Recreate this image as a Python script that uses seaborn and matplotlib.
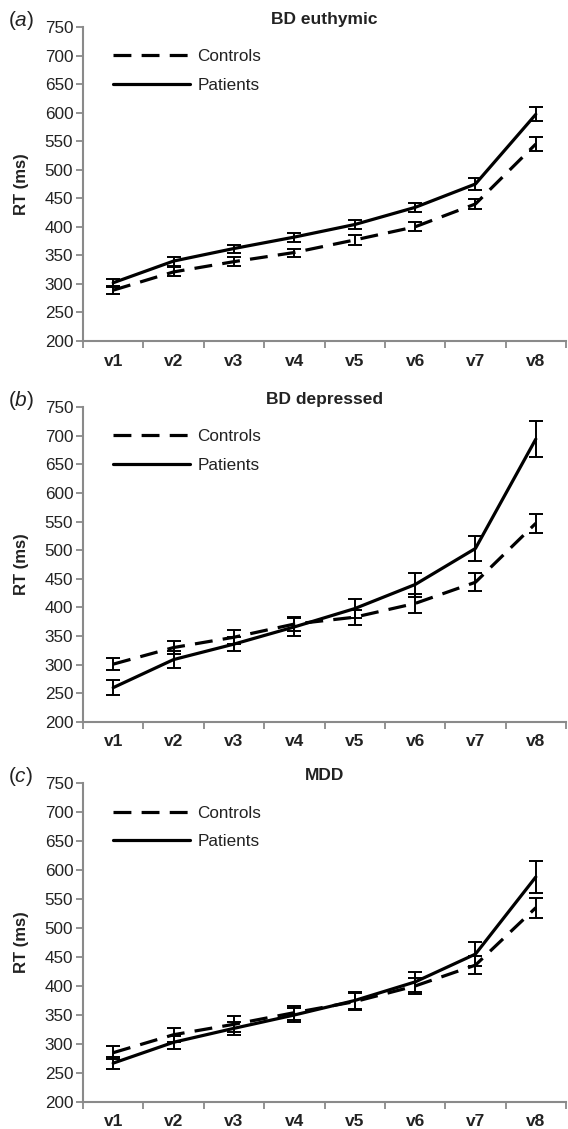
import numpy as np
import pandas as pd
import matplotlib
matplotlib.use("Agg")
import matplotlib.pyplot as plt
import seaborn as sns

# ---- data (mean RT and error, ms) ----
visits = ["v1", "v2", "v3", "v4", "v5", "v6", "v7", "v8"]
groups = ["Controls", "Patients"]

euth_controls = [289, 321, 339, 355, 377, 400, 440, 545]
euth_controls_err = [7, 8, 8, 7, 9, 8, 9, 12]
euth_patients = [302, 340, 362, 382, 404, 434, 475, 597]
euth_patients_err = [7, 8, 7, 8, 8, 8, 10, 12]

dep_controls = [301, 330, 348, 371, 383, 407, 444, 547]
dep_controls_err = [11, 12, 12, 12, 13, 17, 16, 17]
dep_patients = [260, 309, 336, 366, 398, 440, 503, 694]
dep_patients_err = [13, 15, 12, 16, 16, 21, 22, 31]

mdd_controls = [285, 316, 334, 354, 373, 400, 436, 535]
mdd_controls_err = [11, 12, 14, 12, 15, 14, 15, 17]
mdd_patients = [267, 303, 327, 350, 375, 407, 455, 588]
mdd_patients_err = [10, 11, 11, 12, 15, 17, 21, 28]

panel_titles = ["BD euthymic", "BD depressed", "MDD"]
panel_letters = ["a", "b", "c"]
y_ticks = [200, 250, 300, 350, 400, 450, 500, 550, 600, 650, 700, 750]

panels = [
    (euth_controls, euth_controls_err, euth_patients, euth_patients_err),
    (dep_controls, dep_controls_err, dep_patients, dep_patients_err),
    (mdd_controls, mdd_controls_err, mdd_patients, mdd_patients_err),
]

# ---- style ----
sns.set_style("ticks")
plt.rcParams["font.family"] = ["Liberation Sans", "DejaVu Sans"]
plt.rcParams["mathtext.fontset"] = "custom"
plt.rcParams["mathtext.it"] = "Liberation Sans:italic"
plt.rcParams["mathtext.rm"] = "Liberation Sans"

SPINE = "#8a8a8a"
TEXT = "#222222"

fig = plt.figure(figsize=(5.68, 11.29), dpi=100)
W, H = 568, 1129
# (top, bottom) of each axes in pixels
boxes = [(27, 341), (407, 722), (783, 1102)]
title_pads = [1.4, 2.0, -1.2]
ax_left, ax_right = 83, 566

for i, (c_mean, c_err, p_mean, p_err) in enumerate(panels):
    top, bot = boxes[i]
    ax = fig.add_axes([ax_left / W, 1 - bot / H, (ax_right - ax_left) / W, (bot - top) / H])

    df = pd.DataFrame({
        "visit": visits * 2,
        "rt": c_mean + p_mean,
        "group": ["Controls"] * len(visits) + ["Patients"] * len(visits),
    })
    sns.lineplot(data=df, x="visit", y="rt", style="group", style_order=groups,
                 dashes={"Controls": (5.6, 3.2), "Patients": ""},
                 color="black", linewidth=2.3, ax=ax, sort=False)

    ax.errorbar(visits, c_mean, yerr=c_err, fmt="none", ecolor="black",
                elinewidth=1.4, capsize=5, capthick=1.4)
    ax.errorbar(visits, p_mean, yerr=p_err, fmt="none", ecolor="black",
                elinewidth=1.4, capsize=5, capthick=1.4)

    ax.set_xlim(-0.5, 7.5)
    ax.set_ylim(200, 750)
    ax.set_yticks(y_ticks)
    ax.set_xticks(np.arange(-0.5, 8, 1), minor=True)
    ax.tick_params(axis="x", which="major", length=0, pad=9,
                   labelsize=12.5, labelcolor=TEXT)
    ax.tick_params(axis="x", which="minor", length=5, width=1.3, color=SPINE,
                   direction="out")
    ax.tick_params(axis="y", length=5, width=1.3, color=SPINE, pad=2,
                   labelsize=12.3, labelcolor=TEXT)
    for lab in ax.get_xticklabels():
        lab.set_fontweight("bold")

    sns.despine(ax=ax, top=True, right=True)
    for s in ["left", "bottom"]:
        ax.spines[s].set_color(SPINE)
        ax.spines[s].set_linewidth(1.5)

    ax.set_xlabel("")
    ax.set_ylabel("RT (ms)", fontsize=12, fontweight="bold", color=TEXT, labelpad=11)
    ax.set_title(panel_titles[i], fontsize=12.5, fontweight="bold", color=TEXT,
                 pad=title_pads[i])

    leg = ax.legend(loc="upper left", bbox_to_anchor=(0.062, 0.929), frameon=False,
                    fontsize=12.3, handlelength=4.5, handletextpad=0.45,
                    labelspacing=0.8, borderaxespad=0, borderpad=0)
    for t in leg.get_texts():
        t.set_color(TEXT)

    fig.text(8 / W, 1 - (top - 7) / H, r"($\it{%s}$)" % panel_letters[i],
             fontsize=15, color=TEXT, ha="left", va="center")

fig.savefig("out.png", dpi=100)
